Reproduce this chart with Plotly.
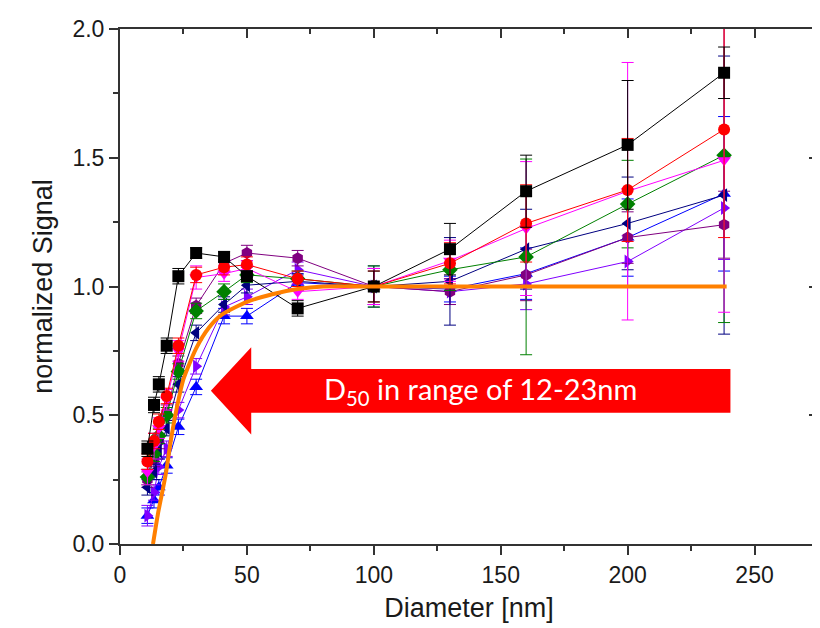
import plotly.graph_objects as go

# ---- data ----
diam = [10.8, 13.4, 15.3, 18.4, 23, 30, 41, 50, 70, 100, 130, 160, 200, 238]

black = [0.37, 0.54, 0.62, 0.77, 1.04, 1.13, 1.115, 1.04, 0.915, 1.0, 1.145, 1.37, 1.55, 1.83]
black_err = [0.03, 0.03, 0.03, 0.03, 0.03, 0.02, 0.02, 0.02, 0.03, 0.06, 0.10, 0.14, 0.25, 0.10]

red = [0.32, 0.40, 0.475, 0.575, 0.77, 1.045, 1.075, 1.085, 1.03, 1.0, 1.09, 1.245, 1.375, 1.61]
red_err = [0.03, 0.03, 0.03, 0.03, 0.03, 0.03, 0.03, 0.03, 0.03, 0.06, 0.08, 0.15, 0.20, 0.42]

magenta = [0.28, 0.38, 0.45, 0.56, 0.75, 1.035, 1.05, 1.07, 0.98, 1.0, 1.10, 1.225, 1.37, 1.49]
magenta_err = [0.05, 0.05, 0.04, 0.04, 0.04, 0.045, 0.03, 0.03, 0.03, 0.07, 0.08, 0.26, 0.50, 0.59]

green = [0.26, 0.35, 0.42, 0.50, 0.67, 0.905, 0.98, 1.045, 1.03, 1.0, 1.065, 1.115, 1.32, 1.51]
green_err = [0.03, 0.03, 0.03, 0.03, 0.03, 0.03, 0.03, 0.03, 0.03, 0.08, 0.08, 0.38, 0.17, 0.65]

navy = [0.22, 0.28, 0.36, 0.45, 0.62, 0.82, 0.93, 1.005, 1.02, 1.0, 1.02, 1.145, 1.245, 1.355]
navy_err = [0.03, 0.03, 0.03, 0.03, 0.03, 0.03, 0.03, 0.03, 0.03, 0.08, 0.17, 0.155, 0.18, 0.54]

purple = [0.25, 0.33, 0.40, 0.51, 0.70, 0.925, 1.09, 1.13, 1.11, 1.0, 0.98, 1.045, 1.19, 1.24]
purple_err = [0.03, 0.03, 0.03, 0.03, 0.03, 0.03, 0.03, 0.03, 0.03, 0.07, 0.05, 0.10, 0.10, 0.13]

violet = [0.11, 0.20, 0.30, 0.37, 0.52, 0.69, 0.92, 0.96, 1.065, 1.0, 0.98, 1.01, 1.097, 1.305]
violet_err = [0.04, 0.03, 0.03, 0.03, 0.03, 0.03, 0.03, 0.03, 0.03, 0.07, 0.05, 0.10, 0.10, 0.20]

blue = [0.11, 0.17, 0.22, 0.305, 0.455, 0.61, 0.885, 0.885, 1.015, 1.0, 0.99, 1.05, 1.19, 1.36]
blue_err = [0.03, 0.03, 0.03, 0.03, 0.03, 0.03, 0.03, 0.03, 0.03, 0.07, 0.05, 0.10, 0.15, 0.30]

model_x = [13, 15, 18, 20, 22, 25, 30, 35, 40, 50, 60, 70, 80, 100, 150, 200, 239]
model_y = [0.0, 0.12, 0.27, 0.40, 0.51, 0.64, 0.76, 0.84, 0.89, 0.94, 0.97, 0.99, 1.0, 1.0, 1.0, 1.0, 1.0]

x_ticks = [0, 50, 100, 150, 200, 250]
y_ticks = [0.0, 0.5, 1.0, 1.5, 2.0]
y_tick_labels = ["0.0", "0.5", "1.0", "1.5", "2.0"]

arrow_text = "D<sub>50</sub> in range of 12-23nm"

series = [
    ("blue", blue, blue_err, "#0000FF", "triangle-up"),
    ("violet", violet, violet_err, "#8000FF", "triangle-right"),
    ("purple", purple, purple_err, "#800080", "hexagon"),
    ("navy", navy, navy_err, "#000080", "triangle-left"),
    ("green", green, green_err, "#008000", "diamond"),
    ("magenta", magenta, magenta_err, "#FF00FF", "triangle-down"),
    ("red", red, red_err, "#FF0000", "circle"),
    ("black", black, black_err, "#000000", "square"),
]

fig = go.Figure()
for name, ys, es, col, sym in series:
    fig.add_trace(go.Scatter(
        x=diam, y=ys, mode="lines+markers", name=name,
        line=dict(color=col, width=1),
        marker=dict(symbol=sym, size=12, color=col, line=dict(width=0)),
        error_y=dict(type="data", array=es, visible=True, color=col, thickness=1, width=6),
        showlegend=False,
    ))

fig.add_trace(go.Scatter(
    x=model_x, y=model_y, mode="lines", line=dict(color="#FF8000", width=4, shape="spline", smoothing=0.6),
    showlegend=False,
))

# dummy trace so the mirrored (inward) tick axes on top/right are drawn
fig.add_trace(go.Scatter(x=[None], y=[None], xaxis="x2", yaxis="y2", showlegend=False, hoverinfo="skip"))

axis_col = "#333333"
fig.update_layout(
    width=820, height=628,
    margin=dict(l=112, r=8, t=19, b=92),
    paper_bgcolor="white", plot_bgcolor="white",
    font=dict(family="Liberation Sans, Arial, sans-serif", color="#1a1a1a"),
    xaxis=dict(
        range=[0, 275], tickvals=x_ticks, ticks="outside", ticklen=9, tickwidth=2, tickcolor=axis_col,
        showline=True, linewidth=2, linecolor=axis_col, mirror=True, showgrid=False, zeroline=False,
        minor=dict(ticks="outside", ticklen=5, tickwidth=2, tickcolor=axis_col, dtick=25, tick0=0),
        tickfont=dict(size=23),
        title=dict(text="Diameter [nm]", font=dict(size=27), standoff=12),
    ),
    yaxis=dict(
        range=[0, 2], tickvals=y_ticks, ticktext=y_tick_labels, ticks="outside", ticklen=9, tickwidth=2,
        tickcolor=axis_col, showline=True, linewidth=2, linecolor=axis_col, mirror=True, showgrid=False,
        zeroline=False,
        minor=dict(ticks="outside", ticklen=5, tickwidth=2, tickcolor=axis_col, dtick=0.25, tick0=0),
        tickfont=dict(size=23),
        title=dict(text="normalized Signal", font=dict(size=27), standoff=12),
    ),
    xaxis2=dict(
        overlaying="x", side="top", range=[0, 275], tickvals=x_ticks, ticks="inside", ticklen=9,
        tickwidth=2, tickcolor=axis_col, showticklabels=False, showline=False, showgrid=False, zeroline=False,
        minor=dict(ticks="inside", ticklen=5, tickwidth=2, tickcolor=axis_col, dtick=25, tick0=0),
    ),
    yaxis2=dict(
        overlaying="y", side="right", range=[0, 2], tickvals=y_ticks, ticks="inside", ticklen=9,
        tickwidth=2, tickcolor=axis_col, showticklabels=False, showline=False, showgrid=False, zeroline=False,
        minor=dict(ticks="inside", ticklen=5, tickwidth=2, tickcolor=axis_col, dtick=0.25, tick0=0),
    ),
)

# red arrow (annotation graphic)
fig.add_shape(
    type="path", xref="x", yref="y", layer="above",
    path="M 35.8 0.595 L 51.7 0.764 L 51.7 0.68 L 240.5 0.68 L 240.5 0.51 L 51.7 0.51 L 51.7 0.425 Z",
    fillcolor="#FF0000", line=dict(color="#FF0000", width=0),
)
fig.add_annotation(
    x=142, y=0.595, xref="x", yref="y", text=arrow_text, showarrow=False,
    font=dict(family="Lato, Open Sans, sans-serif", size=29, color="white"),
)

fig.write_html("out.html")
